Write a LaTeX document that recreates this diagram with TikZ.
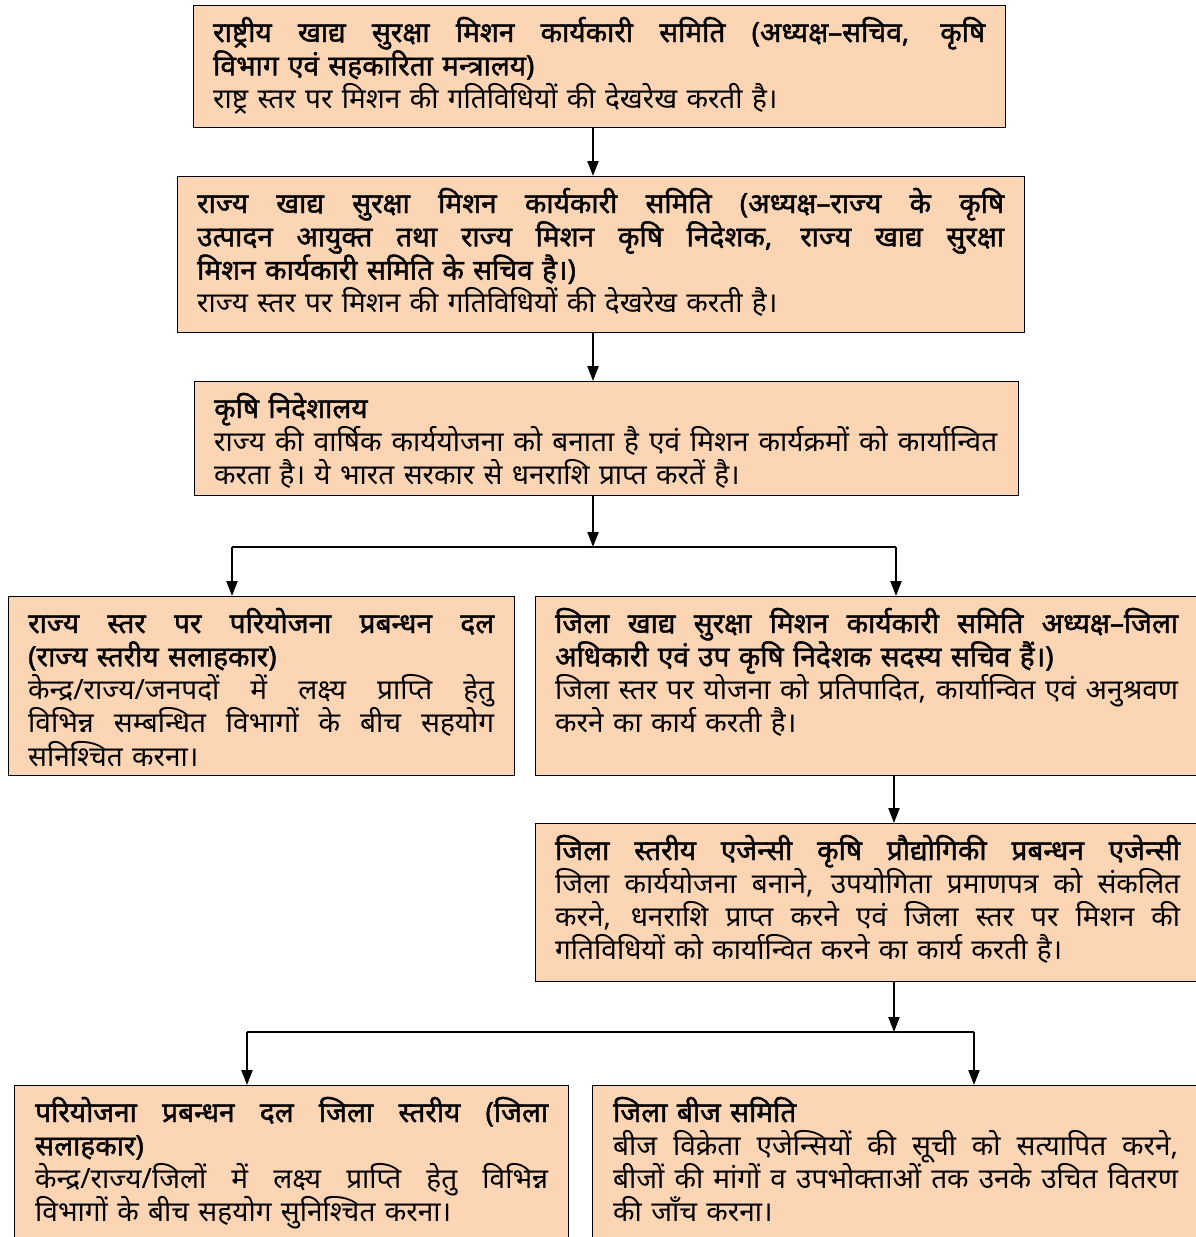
\documentclass[tikz,border=0pt]{standalone}
\usepackage{fontspec}
\usetikzlibrary{arrows.meta}
\newfontfamily\dev[Script=Devanagari, BoldFont={Noto Sans}, BoldFeatures={FakeBold=1.5}]{Noto Sans}
\definecolor{boxfill}{HTML}{FCD5B4}
\newcommand{\jl}[1]{\makebox[\hsize][s]{\spaceskip=0.26em plus 1fil\relax #1}}
\tikzset{
  box/.style={draw=black, line width=1.3pt, fill=boxfill, anchor=north west, inner sep=0pt, rectangle},
  txt/.style={anchor=base west, inner sep=0pt, align=left, font={\dev\fontsize{28}{33.3}\selectfont}},
  arr/.style={line width=2.2pt, -{Triangle[width=11pt,length=15pt]}},
  conn/.style={line width=2pt}
}
\begin{document}
\begin{tikzpicture}[x=1pt,y=-1pt]
\useasboundingbox (0,0) rectangle (1196,1237);
\clip (0,0) rectangle (1196,1237);
\fill[white] (0,0) rectangle (1196,1237);
% boxes
\node[box, minimum width=812, minimum height=122] (b1) at (193,5) {};
\node[box, minimum width=847, minimum height=156] (b2) at (177,176) {};
\node[box, minimum width=824, minimum height=114] (b3) at (194,381) {};
\node[box, minimum width=506, minimum height=179] (b4) at (8,596) {};
\node[box, minimum width=700, minimum height=179] (b5) at (535,596) {};
\node[box, minimum width=700, minimum height=158] (b6) at (535,823) {};
\node[box, minimum width=554, minimum height=200] (b7) at (14,1085) {};
\node[box, minimum width=650, minimum height=200] (b8) at (592,1085) {};
% texts
\node[txt, text width=772] (t1) at (213,42) {%
\bfseries\jl{राष्ट्रीय खाद्य सुरक्षा मिशन कार्यकारी समिति (अध्यक्ष–सचिव, कृषि}\\
\bfseries विभाग एवं सहकारिता मन्त्रालय)\\
\mdseries राष्ट्र स्तर पर मिशन की गतिविधियों की देखरेख करती है।};
\node[txt, text width=807] (t2) at (197,213) {%
\bfseries\jl{राज्य खाद्य सुरक्षा मिशन कार्यकारी समिति (अध्यक्ष–राज्य के कृषि}\\
\bfseries\jl{उत्पादन आयुक्त तथा राज्य मिशन कृषि निदेशक, राज्य खाद्य सुरक्षा}\\
\bfseries मिशन कार्यकारी समिति के सचिव है।)\\
\mdseries राज्य स्तर पर मिशन की गतिविधियों की देखरेख करती है।};
\node[txt, text width=783] (t3) at (214,418) {%
\bfseries कृषि निदेशालय\\
\mdseries\jl{राज्य की वार्षिक कार्ययोजना को बनाता है एवं मिशन कार्यक्रमों को कार्यान्वित}\\
\mdseries करता है। ये भारत सरकार से धनराशि प्राप्त करतें है।};
\node[txt, text width=466] (t4) at (28,633) {%
\bfseries\jl{राज्य स्तर पर परियोजना प्रबन्धन दल}\\
\bfseries (राज्य स्तरीय सलाहकार)\\
\mdseries\jl{केन्द्र/राज्य/जनपदों में लक्ष्य प्राप्ति हेतु}\\
\mdseries\jl{विभिन्न सम्बन्धित विभागों के बीच सहयोग}\\
\mdseries सनिश्चित करना।};
\node[txt, text width=623] (t5) at (555,633) {%
\bfseries\jl{जिला खाद्य सुरक्षा मिशन कार्यकारी समिति अध्यक्ष–जिला}\\
\bfseries अधिकारी एवं उप कृषि निदेशक सदस्य सचिव हैं।)\\
\mdseries\jl{जिला स्तर पर योजना को प्रतिपादित, कार्यान्वित एवं अनुश्रवण}\\
\mdseries करने का कार्य करती है।};
\node[txt, text width=625] (t6) at (555,860) {%
\bfseries\jl{जिला स्तरीय एजेन्सी कृषि प्रौद्योगिकी प्रबन्धन एजेन्सी}\\
\mdseries\jl{जिला कार्ययोजना बनाने, उपयोगिता प्रमाणपत्र को संकलित}\\
\mdseries\jl{करने, धनराशि प्राप्त करने एवं जिला स्तर पर मिशन की}\\
\mdseries गतिविधियों को कार्यान्वित करने का कार्य करती है।};
\node[txt, text width=513] (t7) at (35,1122) {%
\bfseries\jl{परियोजना प्रबन्धन दल जिला स्तरीय (जिला}\\
\bfseries सलाहकार)\\
\mdseries\jl{केन्द्र/राज्य/जिलों में लक्ष्य प्राप्ति हेतु विभिन्न}\\
\mdseries विभागों के बीच सहयोग सुनिश्चित करना।};
\node[txt, text width=565] (t8) at (613,1122) {%
\bfseries जिला बीज समिति\\
\mdseries\jl{बीज विक्रेता एजेन्सियों की सूची को सत्यापित करने,}\\
\mdseries\jl{बीजों की मांगों व उपभोक्ताओं तक उनके उचित वितरण}\\
\mdseries की जाँच करना।};
% junction coordinates
\coordinate (j1) at (593,547);
\coordinate (l1) at (232,547);
\coordinate (r1) at (896,547);
\coordinate (j2) at (894,1032);
\coordinate (l2) at (247,1032);
\coordinate (r2) at (974,1032);
% connectors
\draw[arr] (b1.south -| j1) -- (b2.north -| j1);
\draw[arr] (b2.south -| j1) -- (b3.north -| j1);
\draw[arr] (b3.south -| j1) -- (j1);
\draw[conn] (l1) -- (r1);
\draw[arr] (l1) -- (b4.north -| l1);
\draw[arr] (r1) -- (b5.north -| r1);
\draw[arr] (b5.south -| j2) -- (b6.north -| j2);
\draw[arr] (b6.south -| j2) -- (j2);
\draw[conn] (l2) -- (r2);
\draw[arr] (l2) -- (b7.north -| l2);
\draw[arr] (r2) -- (b8.north -| r2);
\end{tikzpicture}
\end{document}
